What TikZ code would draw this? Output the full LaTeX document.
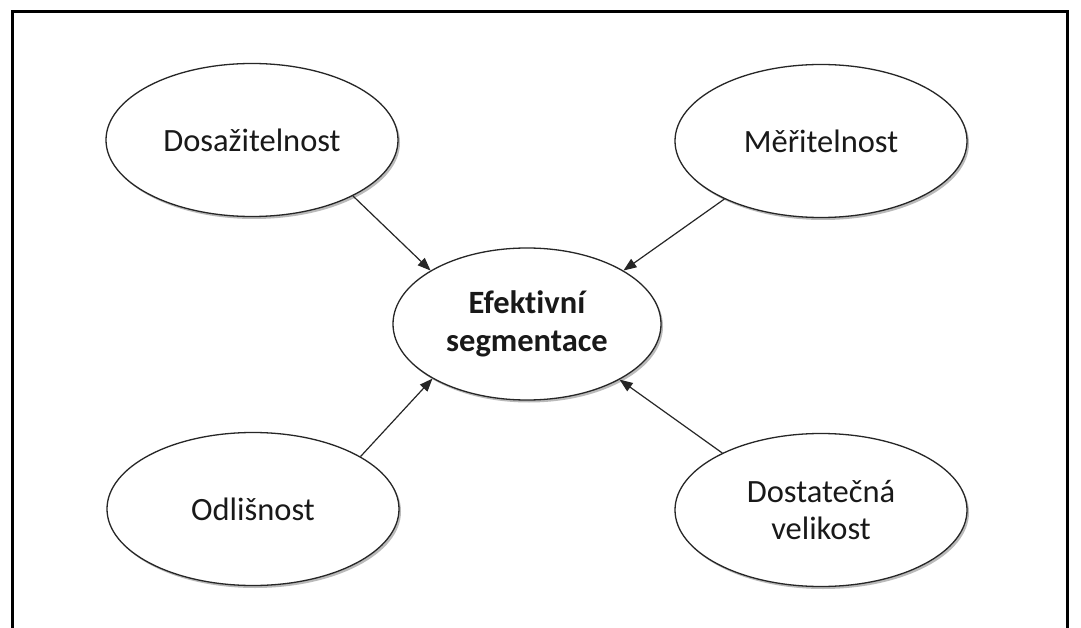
\documentclass[tikz,border=0pt]{standalone}
\usepackage{fontspec}
\setmainfont{Carlito}[RawFeature={-liga;-clig;-dlig}]
\usetikzlibrary{shapes.geometric,arrows.meta,shadows}
\begin{document}
\begin{tikzpicture}[x=1pt,y=-1pt,
  oval/.style={ellipse, draw=black!85, line width=1.3pt, fill=white,
    minimum width=292pt, minimum height=153pt, inner sep=0pt,
    font=\fontsize{32.5}{37.5}\selectfont, align=center, text=black!90,
    drop shadow={shadow xshift=2pt, shadow yshift=-2.5pt, opacity=0.45, fill=black!60}},
  conn/.style={line width=1.2pt, draw=black!85, -{Triangle[length=13pt,width=10pt]}}]
\useasboundingbox (0,0) rectangle (1081,628);
\fill[white] (0,0) rectangle (1081,628);
\draw[line width=3pt] (12,640) -- (12,11.5) -- (1067,11.5) -- (1067,640);
\node[oval] (dos) at (252,140) {Dosažitelnost};
\node[oval] (mer) at (821,141) {Měřitelnost};
\node[oval, minimum width=268pt, minimum height=152pt, font=\bfseries\fontsize{32.5}{38}\selectfont] (ef) at (527,324) {Efektivní\\segmentace};
\node[oval] (odl) at (253,509) {Odlišnost};
\node[oval] (dst) at (821,510) {Dostatečná\\velikost};
\draw[conn] (dos.-29.5) -- (ef.151.8);
\draw[conn] (mer.211.2) -- (ef.29);
\draw[conn] (odl.26.8) -- (ef.210);
\draw[conn] (dst.150) -- (ef.-31);
\end{tikzpicture}
\end{document}
